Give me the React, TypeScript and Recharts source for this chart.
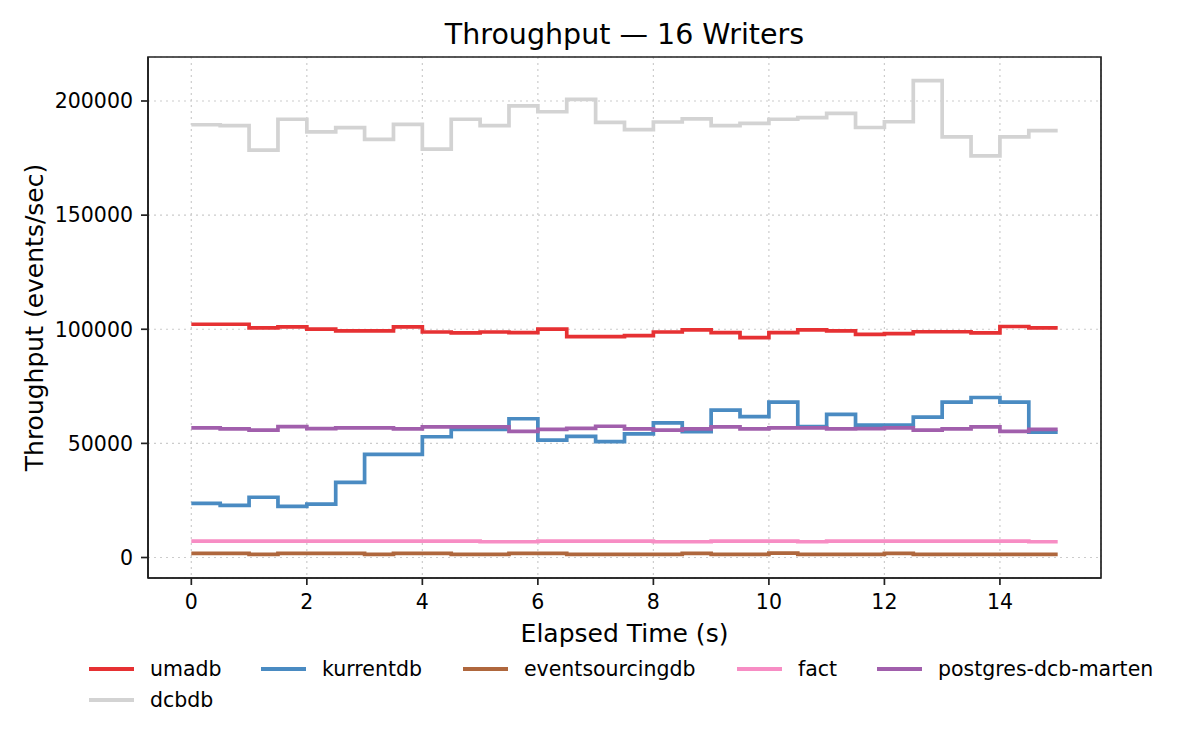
import React from 'react';
import { CartesianGrid, Line, LineChart, ReferenceArea, XAxis, YAxis } from 'recharts';

// elapsed seconds, one sample every half second (last point closes the final step)
const times = [
  0, 0.5, 1, 1.5, 2, 2.5, 3, 3.5, 4, 4.5, 5, 5.5, 6, 6.5, 7, 7.5, 8, 8.5, 9, 9.5, 10, 10.5, 11, 11.5,
  12, 12.5, 13, 13.5, 14, 14.5, 15,
];

const umadb = [
  102200, 102200, 100600, 101000, 100100, 99300, 99300, 101000, 98800, 98400, 98800, 98500, 100100,
  96800, 96800, 97200, 98800, 99700, 98500, 96300, 98500, 99700, 99300, 97800, 98100, 98900, 98900,
  98400, 101200, 100600, 100600,
];

const kurrentdb = [
  23700, 22800, 26400, 22400, 23400, 32900, 45200, 45200, 52900, 56100, 56100, 60800, 51400, 53100,
  50800, 54200, 59000, 55100, 64600, 61700, 68100, 57300, 62700, 58000, 58000, 61500, 68100, 70100,
  68100, 54900, 54900,
];

const eventsourcingdb = [
  1800, 1800, 1400, 1800, 1800, 1800, 1400, 1800, 1800, 1400, 1400, 1800, 1800, 1400, 1400, 1400,
  1400, 1800, 1400, 1400, 1900, 1400, 1400, 1400, 1800, 1400, 1400, 1400, 1400, 1400, 1400,
];

const fact = [
  7200, 7200, 7200, 7200, 7200, 7200, 7200, 7200, 7200, 7200, 6900, 6900, 7200, 7200, 7200, 7200,
  6900, 6900, 7200, 7200, 7200, 6900, 7200, 7200, 7200, 7200, 7200, 7200, 7200, 6900, 6900,
];

const postgresDcbMarten = [
  56800, 56400, 55800, 57300, 56500, 56800, 56800, 56400, 57200, 57200, 57200, 55300, 56100, 56600,
  57500, 56400, 55800, 56400, 57200, 56400, 56800, 56800, 56400, 56500, 56800, 55800, 56400, 57200,
  55300, 56100, 56100,
];

const dcbdb = [
  189600, 189200, 178500, 192000, 186500, 188300, 183200, 189800, 178900, 192000, 189200, 197900,
  195300, 200700, 190600, 187500, 190800, 192200, 189200, 190200, 192000, 192700, 194600, 188400,
  190900, 208900, 184300, 176000, 184300, 187000, 187000,
];

const xTicks = [0, 2, 4, 6, 8, 10, 12, 14];
const yTicks = [0, 50000, 100000, 150000, 200000];

const X_DOMAIN: [number, number] = [-0.75, 15.75];
const Y_DOMAIN: [number, number] = [-8975, 219275];

const SERIES = [
  { key: 'umadb', values: umadb, color: '#e63133' },
  { key: 'kurrentdb', values: kurrentdb, color: '#4a8bc2' },
  { key: 'eventsourcingdb', values: eventsourcingdb, color: '#af673d' },
  { key: 'fact', values: fact, color: '#f78dc4' },
  { key: 'postgres-dcb-marten', values: postgresDcbMarten, color: '#a15fac' },
  { key: 'dcbdb', values: dcbdb, color: '#d3d3d3' },
];

const data = times.map((t, i) => {
  const row: Record<string, number> = { t };
  SERIES.forEach((s) => {
    row[s.key] = s.values[i];
  });
  return row;
});

// legend slots, matching the two-row layout under the axis title
const LEGEND_POS = [
  { left: 89, top: 669 },
  { left: 261, top: 669 },
  { left: 463, top: 669 },
  { left: 737, top: 669 },
  { left: 877, top: 669 },
  { left: 89, top: 700 },
];

const FONT = '"DejaVu Sans", sans-serif';
const AXIS = '#222';

const XTick = (props: any) => {
  const { x, payload } = props;
  return (
    <text x={x} y={609} textAnchor="middle" fontSize={20.5} fontFamily={FONT} fill="#000">
      {payload.value}
    </text>
  );
};

const YTick = (props: any) => {
  const { y, payload } = props;
  return (
    <text x={133} y={y + 7.3} textAnchor="end" fontSize={20.5} fontFamily={FONT} fill="#000">
      {payload.value}
    </text>
  );
};

export default function App() {
  return (
    <div
      style={{
        position: 'absolute',
        left: 0,
        top: 0,
        width: 1200,
        height: 750,
        background: '#fff',
        fontFamily: FONT,
      }}
    >
      <div
        style={{
          position: 'absolute',
          left: 148,
          width: 953,
          top: 17,
          textAlign: 'center',
          fontSize: 28.5,
          lineHeight: '36px',
          color: '#000',
        }}
      >
        Throughput — 16 Writers
      </div>

      <LineChart width={1200} height={750} data={data} margin={{ top: 57, right: 99, bottom: 0, left: 0 }}>
        <CartesianGrid stroke="#cccccc" strokeWidth={1.2} strokeDasharray="2 4" />
        <XAxis
          dataKey="t"
          type="number"
          domain={X_DOMAIN}
          ticks={xTicks}
          allowDataOverflow
          height={172}
          stroke={AXIS}
          strokeWidth={1.7}
          tickSize={7}
          tickLine={{ stroke: AXIS, strokeWidth: 1.7 }}
          tick={<XTick />}
          label={{
            content: () => (
              <text x={624.5} y={642} textAnchor="middle" fontSize={25} fontFamily={FONT} fill="#000">
                Elapsed Time (s)
              </text>
            ),
          }}
        />
        <YAxis
          type="number"
          domain={Y_DOMAIN}
          ticks={yTicks}
          allowDataOverflow
          width={148}
          stroke={AXIS}
          strokeWidth={1.7}
          tickSize={7}
          tickLine={{ stroke: AXIS, strokeWidth: 1.7 }}
          tick={<YTick />}
          label={{
            content: () => (
              <text
                x={43}
                y={317.5}
                transform="rotate(-90 43 317.5)"
                textAnchor="middle"
                fontSize={25}
                fontFamily={FONT}
                fill="#000"
              >
                Throughput (events/sec)
              </text>
            ),
          }}
        />
        {SERIES.map((s) => (
          <Line
            key={s.key}
            type="stepAfter"
            dataKey={s.key}
            stroke={s.color}
            strokeWidth={3.7}
            strokeLinejoin="miter"
            dot={false}
            activeDot={false}
            isAnimationActive={false}
          />
        ))}
        {/* plot frame */}
        <ReferenceArea
          x1={X_DOMAIN[0]}
          x2={X_DOMAIN[1]}
          y1={Y_DOMAIN[0]}
          y2={Y_DOMAIN[1]}
          fill="none"
          fillOpacity={0}
          stroke={AXIS}
          strokeWidth={1.7}
          strokeOpacity={1}
          ifOverflow="extendDomain"
        />
      </LineChart>

      {SERIES.map((s, i) => (
        <div
          key={s.key}
          style={{
            position: 'absolute',
            left: LEGEND_POS[i].left,
            top: LEGEND_POS[i].top - 15,
            height: 30,
            display: 'flex',
            alignItems: 'center',
            fontSize: 20.5,
            color: '#000',
            whiteSpace: 'nowrap',
          }}
        >
          <span style={{ display: 'inline-block', width: 45, height: 3.5, background: s.color, marginRight: 16 }} />
          <span style={{ lineHeight: '30px' }}>{s.key}</span>
        </div>
      ))}
    </div>
  );
}
